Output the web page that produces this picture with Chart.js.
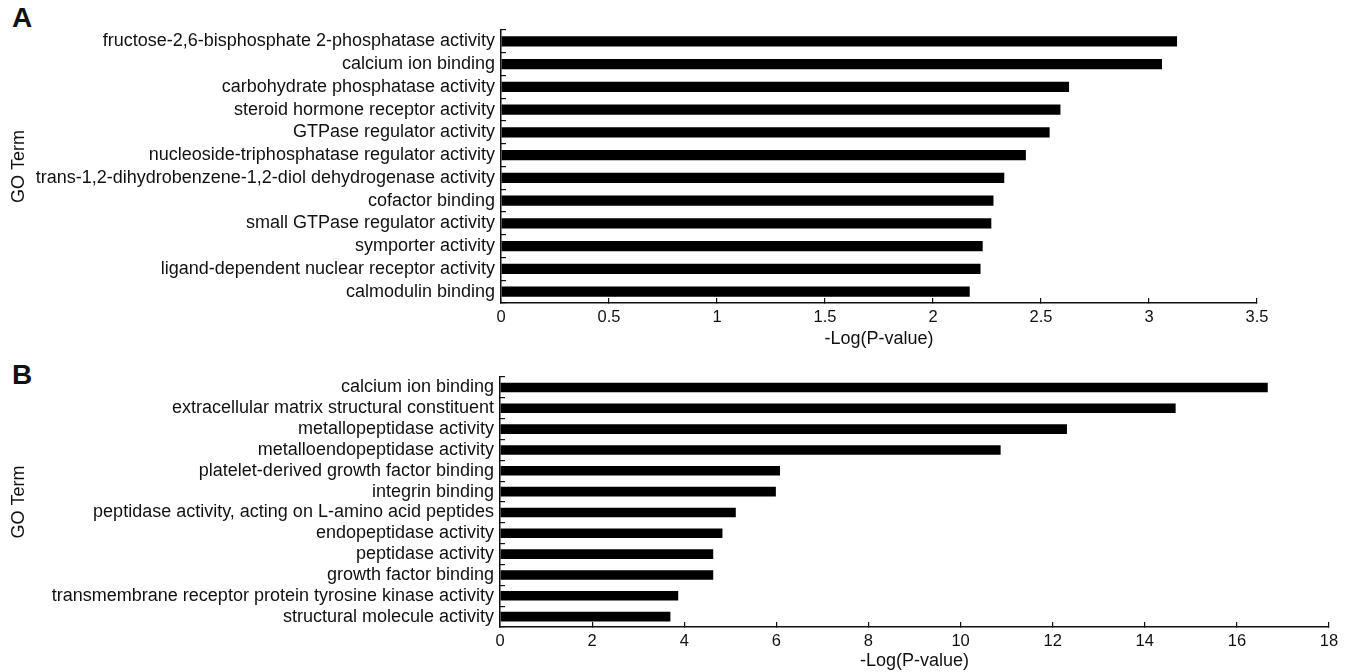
<!DOCTYPE html>
<html>
<head>
<meta charset="utf-8">
<script src="https://cdn.jsdelivr.net/npm/chart.js@4.4.0/dist/chart.umd.min.js"></script>
<style>
  html, body { margin: 0; padding: 0; background: #fff; }
  body { width: 1351px; height: 672px; position: relative; overflow: hidden; font-family: "Liberation Sans", Arial, sans-serif; }
  canvas { position: absolute; left: 0; }
  #panelA { top: 0; }
  #panelB { top: 352px; }
  .letter { position: absolute; left: 12px; font-weight: bold; font-size: 28px; line-height: 28px; color: #111; }
</style>
</head>
<body>
<div class="letter" style="top:4px">A</div>
<div class="letter" style="top:361px">B</div>
<canvas id="panelA" width="1351" height="352"></canvas>
<canvas id="panelB" width="1351" height="320"></canvas>
<script>
// Panel A - GO terms and -log10(p)
const termsA = [
    'fructose-2,6-bisphosphate 2-phosphatase activity',
    'calcium ion binding',
    'carbohydrate phosphatase activity',
    'steroid hormone receptor activity',
    'GTPase regulator activity',
    'nucleoside-triphosphatase regulator activity',
    'trans-1,2-dihydrobenzene-1,2-diol dehydrogenase activity',
    'cofactor binding',
    'small GTPase regulator activity',
    'symporter activity',
    'ligand-dependent nuclear receptor activity',
    'calmodulin binding'
];
const scoresA = [3.13, 3.06, 2.63, 2.59, 2.54, 2.43, 2.33, 2.28, 2.27, 2.23, 2.22, 2.17];
const xTicksA = [0, 0.5, 1, 1.5, 2, 2.5, 3, 3.5];

// Panel B
const termsB = [
    'calcium ion binding',
    'extracellular matrix structural constituent',
    'metallopeptidase activity',
    'metalloendopeptidase activity',
    'platelet-derived growth factor binding',
    'integrin binding',
    'peptidase activity, acting on L-amino acid peptides',
    'endopeptidase activity',
    'peptidase activity',
    'growth factor binding',
    'transmembrane receptor protein tyrosine kinase activity',
    'structural molecule activity'
];
const scoresB = [16.67, 14.67, 12.31, 10.87, 6.08, 5.99, 5.12, 4.83, 4.63, 4.63, 3.87, 3.70];
const xTicksB = [0, 2, 4, 6, 8, 10, 12, 14, 16, 18];

Chart.defaults.font.family = '"Liberation Sans", Arial, sans-serif';
Chart.defaults.color = '#111';

function makePanel(id, terms, scores, xTicks, geom) {
    const ctx = document.getElementById(id);
    return new Chart(ctx, {
        type: 'bar',
        data: {
            labels: terms,
            datasets: [{
                data: scores,
                backgroundColor: '#000',
                borderWidth: 0,
                barPercentage: 0.46,
                categoryPercentage: 1
            }]
        },
        options: {
            indexAxis: 'y',
            responsive: false,
            animation: false,
            layout: {
                padding: { top: geom.top, right: geom.right, left: 0, bottom: 0 }
            },
            plugins: {
                legend: { display: false },
                tooltip: { enabled: false }
            },
            scales: {
                x: {
                    min: xTicks[0],
                    max: xTicks[xTicks.length - 1],
                    ticks: {
                        stepSize: xTicks[1] - xTicks[0],
                        color: '#111',
                        font: { size: 16.5 },
                        padding: 10,
                        maxRotation: 0,
                        autoSkip: false,
                        callback: v => String(Math.round(v * 10) / 10)
                    },
                    grid: { drawOnChartArea: false, tickLength: -5, color: '#111', lineWidth: 1.2 },
                    border: { color: '#111', width: 1.5 },
                    title: {
                        display: true,
                        text: '-Log(P-value)',
                        color: '#111',
                        font: { size: 18 },
                        padding: { top: 0, bottom: geom.titleBottom }
                    },
                    afterFit: s => { s.height = geom.xHeight; }
                },
                y: {
                    ticks: { color: '#111', font: { size: 18 }, padding: 11, autoSkip: false },
                    grid: { drawOnChartArea: false, tickLength: -5, color: '#111', lineWidth: 1.2, offset: true },
                    border: { color: '#111', width: 1.5 },
                    title: {
                        display: true,
                        text: 'GO Term',
                        color: '#111',
                        font: { size: 18 },
                        padding: { top: 8, bottom: 0 }
                    },
                    afterFit: s => { s.width = geom.yWidth; }
                }
            }
        }
    });
}

makePanel('panelA', termsA, scoresA, xTicksA, { top: 30, right: 94, yWidth: 501, xHeight: 49, titleBottom: 2 });
makePanel('panelB', termsB, scoresB, xTicksB, { top: 25, right: 22, yWidth: 500, xHeight: 45, titleBottom: 0 });
</script>
</body>
</html>
